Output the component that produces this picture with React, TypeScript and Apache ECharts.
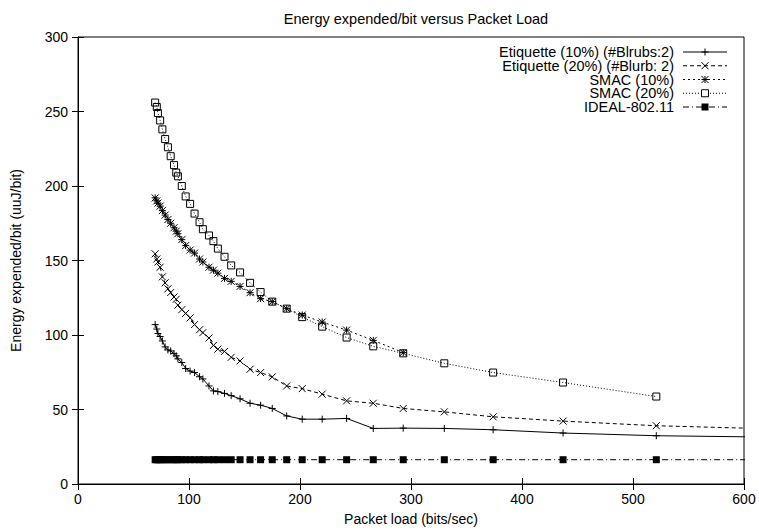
import React, { useEffect, useRef } from "react";
import * as echarts from "echarts";

// Packet load (bits/sec) sample positions, shared by all series (700 lies beyond the clipped x range)
const packetLoad = [69.5, 71, 72, 74, 76, 78.5, 81, 83.5, 86.5, 88.5, 90, 93.5, 97, 101, 105, 109.5, 112.5, 118, 122, 126, 132, 138, 146, 155, 164.5, 175, 188, 202, 220, 242, 266, 293, 330, 374, 437, 521, 700];

const etiquette10 = [107, 104, 101, 99, 96, 92, 90, 89.3, 87.5, 86, 84, 81.5, 77.5, 75.8, 74.8, 72, 70.5, 65.8, 62.5, 62, 60.8, 59.3, 57.2, 54.2, 52.9, 50.7, 45.7, 43.5, 43.5, 44, 37.3, 37.5, 37.3, 36.4, 34.2, 32.4, 30.8];
const etiquette20 = [154.5, 151, 149, 145.5, 139, 135, 131, 128.5, 125.5, 124, 120, 117, 114.5, 111.5, 107, 103.5, 101.6, 98, 93, 90.5, 89, 85, 82.6, 77, 74.8, 71.9, 65.8, 64, 60.3, 55.8, 54.2, 50.7, 48.4, 45.1, 42.2, 39.1, 35.5];
const smac10 = [192, 190, 188.5, 186.5, 183.5, 180.5, 177.5, 175, 172, 169.7, 168, 164, 160, 157, 155, 151, 149, 145.5, 143.5, 141.5, 138, 136, 132.6, 128.4, 124.4, 122.4, 117.7, 113.4, 108.7, 103.3, 96.4, 88.2, null, null, null, null, null];
const smac20 = [256, 253, 249, 244, 238, 231.5, 226, 220, 214, 209, 206.5, 200, 193, 188, 181.5, 175.7, 171, 166.8, 163, 158, 152.5, 146.7, 142, 135, 128.8, 122.4, 117.7, 112, 105.6, 98.3, 92.4, 87.7, 81, 74.8, 68.1, 58.7, null];
const ideal = [16.3, 16.3, 16.3, 16.3, 16.3, 16.3, 16.3, 16.3, 16.3, 16.3, 16.3, 16.3, 16.3, 16.3, 16.3, 16.3, 16.3, 16.3, 16.3, 16.3, 16.3, 16.3, 16.3, 16.3, 16.3, 16.3, 16.3, 16.3, 16.3, 16.3, 16.3, 16.3, 16.3, 16.3, 16.3, 16.3, 16.3];

const seriesNames = [
  "Etiquette (10%) (#Blrubs:2)",
  "Etiquette (20%) (#Blurb: 2)",
  "SMAC (10%)",
  "SMAC (20%)",
  "IDEAL-802.11",
];

const xTicks = { min: 0, max: 600, interval: 100 };
const yTicks = { min: 0, max: 300, interval: 50 };

const FONT = '"Liberation Sans", Arial, Helvetica, sans-serif';

const PLUS = "path://M0,-1L0,1M-1,0L1,0";
const CROSS = "path://M-1,-1L1,1M-1,1L1,-1";
const STAR = "path://M0,-1L0,1M-1,0L1,0M-1,-1L1,1M-1,1L1,-1";
const BOX = "path://M-1,-1L1,-1L1,1L-1,1Z";

const dashes: any[] = ["solid", [4, 3], [2, 3], [1, 2], [6, 3, 1, 3]];
const symbols = [PLUS, CROSS, STAR, BOX, "rect"];
const datasets = [etiquette10, etiquette20, smac10, smac20, ideal];

function legendMarker(kind: number, cx: number, cy: number): any[] {
  const r = 3.5;
  const ln = (x1: number, y1: number, x2: number, y2: number) => ({
    type: "line",
    shape: { x1, y1, x2, y2 },
    style: { stroke: "#000", lineWidth: 1 },
    silent: true,
  });
  if (kind === 0) return [ln(cx, cy - r, cx, cy + r), ln(cx - r, cy, cx + r, cy)];
  if (kind === 1) return [ln(cx - r, cy - r, cx + r, cy + r), ln(cx - r, cy + r, cx + r, cy - r)];
  if (kind === 2)
    return [
      ln(cx, cy - r, cx, cy + r),
      ln(cx - r, cy, cx + r, cy),
      ln(cx - r, cy - r, cx + r, cy + r),
      ln(cx - r, cy + r, cx + r, cy - r),
    ];
  if (kind === 3)
    return [{ type: "rect", shape: { x: cx - r, y: cy - r, width: 2 * r, height: 2 * r }, style: { fill: "#fff", stroke: "#000", lineWidth: 1 }, silent: true }];
  return [{ type: "rect", shape: { x: cx - r, y: cy - r, width: 2 * r, height: 2 * r }, style: { fill: "#000" }, silent: true }];
}

export default function App() {
  const ref = useRef<HTMLDivElement>(null);
  useEffect(() => {
    if (!ref.current) return;
    const chart = echarts.init(ref.current, undefined, { renderer: "svg" });

    const series = datasets.map((vals, k) => ({
      name: seriesNames[k],
      type: "line",
      data: packetLoad
        .map((x, i) => [x, vals[i]])
        .filter((p) => p[1] !== null && p[1] !== undefined),
      symbol: symbols[k],
      symbolSize: 7,
      showAllSymbol: true,
      clip: true,
      lineStyle: { color: "#000", width: 1, type: dashes[k] },
      itemStyle: {
        color: k === 4 ? "#000" : "rgba(0,0,0,0)",
        borderColor: "#000",
        borderWidth: k === 4 ? 0 : 1,
      },
      emphasis: { disabled: true },
      z: 2 + k,
    }));

    const legendGraphics: any[] = [];
    const rowY0 = 52;
    const rowGap = 13.75;
    seriesNames.forEach((name, k) => {
      const y = rowY0 + rowGap * k;
      legendGraphics.push({
        type: "text",
        x: 674,
        y,
        style: { text: name, fontSize: 14.5, lineHeight: 13, fontFamily: FONT, fill: "#000", align: "right", verticalAlign: "middle" },
        silent: true,
      });
      legendGraphics.push({
        type: "line",
        shape: { x1: 683, y1: y, x2: 727, y2: y },
        style: { stroke: "#000", lineWidth: 1, lineDash: k === 0 ? null : dashes[k] },
        silent: true,
      });
      legendMarker(k, 705, y).forEach((g) => legendGraphics.push(g));
    });

    const axisCommon = {
      type: "value",
      splitLine: { show: false },
      axisLine: { show: true, lineStyle: { color: "#000", width: 1 } },
      axisTick: { show: true, inside: true, length: 6, lineStyle: { color: "#000" } },
    };

    chart.setOption({
      animation: false,
      backgroundColor: "#fff",
      title: {
        text: "Energy expended/bit versus Packet Load",
        left: 411,
        top: 6,
        textAlign: "center",
        textStyle: { fontSize: 14.5, fontWeight: "normal", fontFamily: FONT, color: "#000" },
      },
      grid: { left: 78, right: 15, top: 37, bottom: 46, show: true, borderColor: "#000", borderWidth: 1, backgroundColor: "transparent" },
      xAxis: [
        {
          ...axisCommon,
          position: "bottom",
          ...xTicks,
          name: "Packet load (bits/sec)",
          nameLocation: "middle",
          nameGap: 28,
          nameTextStyle: { fontSize: 14, fontFamily: FONT, color: "#000" },
          axisLabel: { fontSize: 14, fontFamily: FONT, color: "#000", margin: 8 },
        },
        {
          ...axisCommon,
          position: "top",
          ...xTicks,
          axisLabel: { show: false },
        },
      ],
      yAxis: [
        {
          ...axisCommon,
          position: "left",
          ...yTicks,
          name: "Energy expended/bit (uuJ/bit)",
          nameLocation: "middle",
          nameGap: 55,
          nameRotate: 90,
          nameTextStyle: { fontSize: 14, fontFamily: FONT, color: "#000" },
          axisLabel: { fontSize: 14, fontFamily: FONT, color: "#000", margin: 10 },
        },
        {
          ...axisCommon,
          position: "right",
          ...yTicks,
          axisLabel: { show: false },
        },
      ],
      series,
      graphic: legendGraphics,
    });

    return () => chart.dispose();
  }, []);

  return <div ref={ref} style={{ position: "absolute", left: 0, top: 0, width: 759, height: 531 }} />;
}
